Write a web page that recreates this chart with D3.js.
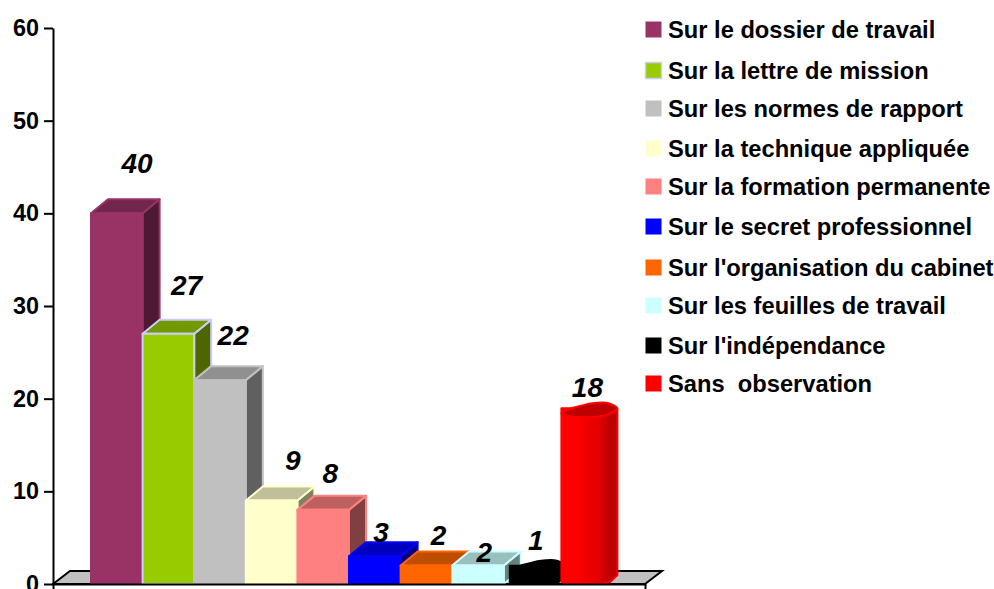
<!DOCTYPE html>
<html>
<head>
<meta charset="utf-8">
<script src="https://cdn.jsdelivr.net/npm/d3@7"></script>
<style>
html, body { margin: 0; padding: 0; background: #fff; }
svg { display: block; }
text { font-family: "Liberation Sans", Arial, sans-serif; fill: #000; }
.axis text { font-size: 23.4px; font-weight: bold; }
.axis path, .axis line { stroke: #000; stroke-width: 2px; }
.legend text { font-size: 23.7px; font-weight: bold; }
.val { font-size: 28px; font-weight: bold; font-style: italic; text-anchor: middle; }
</style>
</head>
<body>
<div id="chart"></div>
<script>
const categories = ["Sur le dossier de travail", "Sur la lettre de mission", "Sur les normes de rapport",
    "Sur la technique appliquée", "Sur la formation permanente", "Sur le secret professionnel",
    "Sur l'organisation du cabinet", "Sur les feuilles de travail", "Sur l'indépendance", "Sans  observation"];
const values = [40, 27, 22, 9, 8, 3, 2, 2, 1, 18];
const yTicks = [0, 10, 20, 30, 40, 50, 60];

// face, top, side, edge colours per bar
const faceColors = ["#993366", "#99cc00", "#c0c0c0", "#ffffcc", "#ff8080", "#0000ff", "#ff6600", "#ccffff", "#000000", "#ff0000"];
const topColors = ["#73264d", "#739900", "#909090", "#bfbf99", "#bf6060", "#0000bf", "#bf4d00", "#99bfbf", "#000000", "#bf0000"];
const sideColors = ["#4d1933", "#4d6600", "#606060", "#808066", "#804040", "#000080", "#803300", "#668080", "#000000", "#bf0000"];
const edgeColors = ["#993366", "#ccccff", "#c0c0c0", "#ffffcc", "#ff8080", "#0000ff", "#ff6600", "#ccffff", "#000000", "#ff0000"];

// label placement relative to the bar's front-top corner
const labelDx = [46, 44, 39, 47, 33, 32, 38, 32, 26, 26];
const labelDy = [-40, -39, -35, -31, -27, -14, -20, -3, -25, -20];

// legend rows are not evenly spaced in the original
const legendBaselines = [38, 79, 117, 157, 195, 235, 276, 314, 354, 392];

const width = 994, height = 589;
const margin = {top: 28, left: 53, bottom: 5};
const depth = {x: 17, y: 14};
const roundShift = 6;

const svg = d3.select("#chart").append("svg")
    .attr("width", width)
    .attr("height", height);

const yScale = d3.scaleLinear()
    .domain([0, 60])
    .range([height - margin.bottom, margin.top]);

const xScale = d3.scaleBand()
    .domain(categories)
    .range([91, 607]);

const xFloor = d3.scaleLinear().domain([0, 1]).range([margin.left, 645]);

const y0 = yScale(0);

// floor
svg.append("path")
    .attr("d", d3.line()([[xFloor(0), y0], [xFloor(0) + depth.x, y0 - depth.y + 1],
        [xFloor(1) + depth.x, y0 - depth.y + 1], [xFloor(1), y0]]) + "Z")
    .attr("fill", "#c0c0c0")
    .attr("stroke", "#000")
    .attr("stroke-width", 2);

const gr = svg.append("g");

function boxBar(g, i, x0, w, yTop) {
    const x1 = x0 + w;
    const common = s => s.attr("stroke", edgeColors[i]).attr("stroke-width", 2).attr("stroke-linejoin", "round");
    g.append("path")
        .attr("d", `M${x1},${yTop}L${x1 + depth.x},${yTop - depth.y}V${y0 - depth.y}L${x1},${y0}Z`)
        .attr("fill", sideColors[i]).call(common);
    g.append("path")
        .attr("d", `M${x0},${yTop}L${x0 + depth.x},${yTop - depth.y}H${x1 + depth.x}L${x1},${yTop}Z`)
        .attr("fill", topColors[i]).call(common);
    g.append("rect")
        .attr("x", x0).attr("y", yTop)
        .attr("width", w).attr("height", y0 - yTop)
        .attr("fill", faceColors[i]).call(common);
}

function cylinderBar(g, i, x0, w, yTop) {
    const x1 = x0 + w;
    const dx = depth.x - 1, dy = depth.y;
    const line = d3.line().curve(d3.curveCatmullRomClosed.alpha(0.5));
    const cap = line([
        [x0, yTop - 4], [x0 + w * 0.18, yTop - 8], [x0 + w * 0.5, yTop - dy * 0.82],
        [x0 + w * 0.78, yTop - dy], [x1 + dx * 0.44, yTop - dy], [x1 + dx * 0.97, yTop - dy * 0.64],
        [x1 + dx * 0.7, yTop - 5], [x1, yTop - 1], [x0 + w * 0.48, yTop], [x0 + w * 0.1, yTop - 2]
    ]);
    const barColor = d3.scaleLinear().domain([0, 1]).range([faceColors[i], sideColors[i]]);
    const id = "grad" + i;
    const grad = svg.append("defs").append("linearGradient").attr("id", id);
    grad.append("stop").attr("offset", "0%").attr("stop-color", barColor(0));
    grad.append("stop").attr("offset", "25%").attr("stop-color", barColor(0));
    grad.append("stop").attr("offset", "70%").attr("stop-color", barColor(0.5));
    grad.append("stop").attr("offset", "72%").attr("stop-color", barColor(0.7));
    grad.append("stop").attr("offset", "80%").attr("stop-color", barColor(0.7));
    grad.append("stop").attr("offset", "81%").attr("stop-color", barColor(1));
    grad.append("stop").attr("offset", "100%").attr("stop-color", barColor(1));
    g.append("path")
        .attr("d", `M${x0},${yTop - 4}V${y0 - 2}L${x0 + w * 0.12},${y0}H${x1}L${x1 + dx * 0.55},${y0 - 2}L${x1 + dx},${y0 - dy * 0.64}V${yTop - dy * 0.64}H${x0}Z`)
        .attr("fill", `url(#${id})`)
        .attr("stroke", edgeColors[i]).attr("stroke-width", 2).attr("stroke-linejoin", "round");
    g.append("path")
        .attr("d", cap)
        .attr("fill", topColors[i])
        .attr("stroke", edgeColors[i]).attr("stroke-width", 2);
}

values.forEach((v, i) => {
    const g = gr.append("g");
    const rounded = i >= 8;
    const x0 = xScale(categories[i]) + (rounded ? roundShift : 0);
    const w = rounded ? xScale.bandwidth() - 11.6 : xScale.bandwidth();
    (rounded ? cylinderBar : boxBar)(g, i, x0, w, yScale(v));
});

// later bars overlap earlier sides, labels go on top of everything
values.forEach((v, i) => {
    const rounded = i >= 8;
    svg.append("text")
        .attr("class", "val")
        .attr("x", xScale(categories[i]) + (rounded ? roundShift : 0) + labelDx[i])
        .attr("y", yScale(v) + labelDy[i])
        .text(v);
});

const yAxis = d3.axisLeft(yScale)
    .tickValues(yTicks)
    .tickSize(9)
    .tickPadding(5)
    .tickSizeOuter(0);

svg.append("g")
    .attr("class", "axis")
    .attr("transform", `translate(${margin.left},0)`)
    .call(yAxis);

// x axis base line with the end ticks
const xAxis = d3.axisBottom(xFloor)
    .tickValues([0, 1])
    .tickFormat("")
    .tickSize(6)
    .tickSizeOuter(0);

svg.append("g")
    .attr("class", "axis")
    .attr("transform", `translate(0,${y0})`)
    .call(xAxis);

// legend
const legend = svg.append("g").attr("class", "legend");

categories.forEach((c, i) => {
    const y = legendBaselines[i];
    legend.append("rect")
        .attr("x", 645.5).attr("y", y - 16.5)
        .attr("width", 16).attr("height", 16)
        .attr("fill", faceColors[i])
        .attr("stroke", edgeColors[i] === faceColors[i] ? "none" : edgeColors[i])
        .attr("stroke-width", 1.5);
    legend.append("text")
        .attr("x", 668).attr("y", y)
        .style("white-space", "pre")
        .text(c);
});
</script>
</body>
</html>
